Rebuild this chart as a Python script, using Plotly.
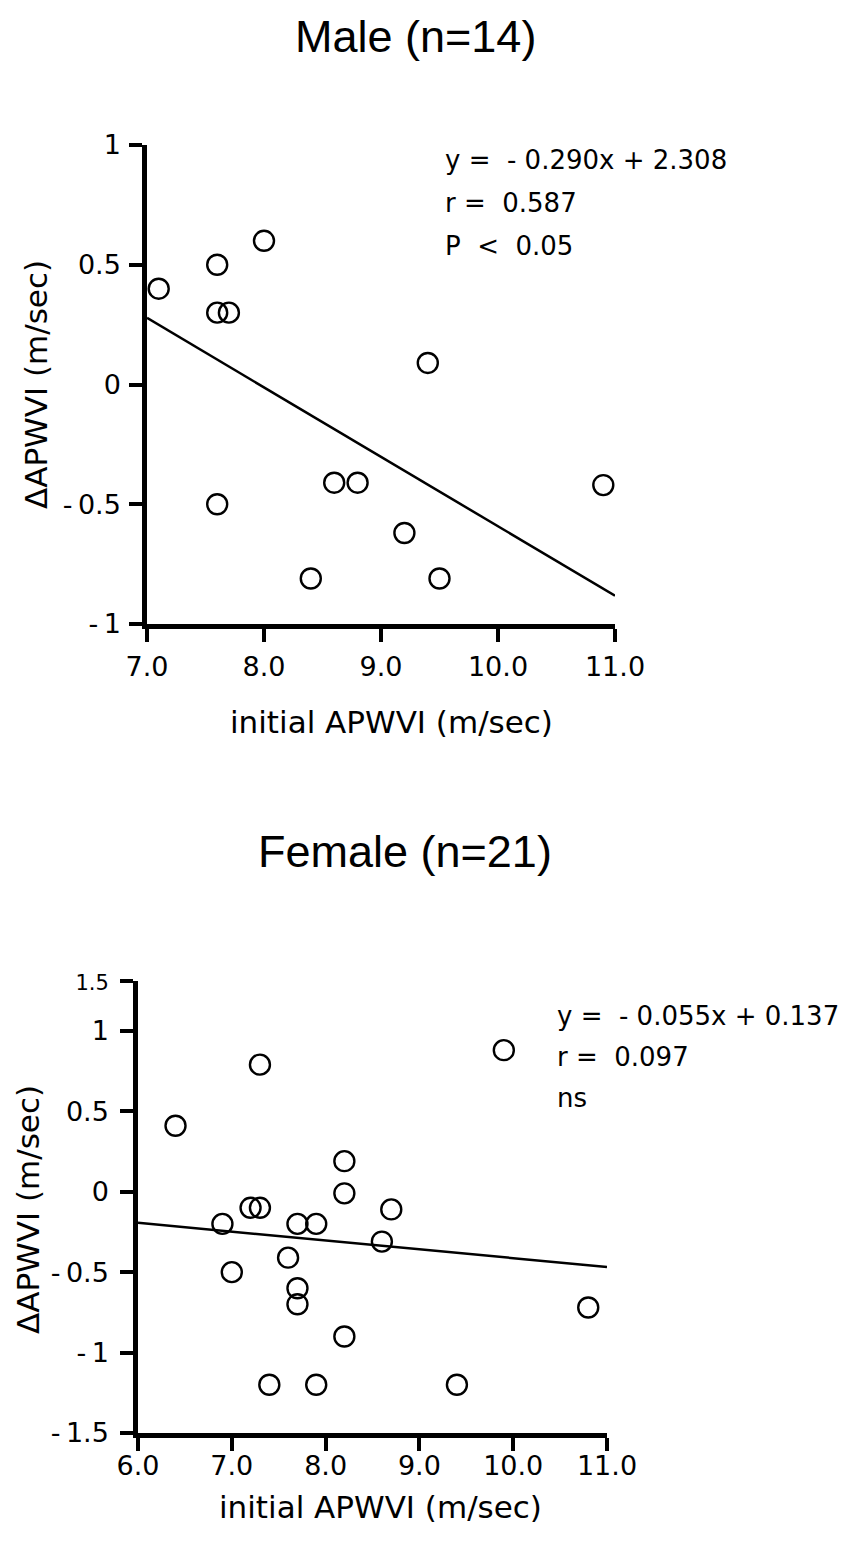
import plotly.graph_objects as go

# Male data
male_x = [7.1, 7.6, 7.6, 7.7, 8.0, 7.6, 9.4, 8.6, 8.8, 10.9, 9.2, 9.5, 8.4]
male_y = [0.40, 0.50, 0.30, 0.30, 0.60, -0.50, 0.09, -0.41, -0.41, -0.42, -0.62, -0.81, -0.81]
male_slope, male_icpt = -0.290, 2.308
male_line_x = [7.0, 11.0]

# Female data
fem_x = [6.4, 7.3, 8.2, 8.2, 7.2, 7.3, 6.9, 7.7, 7.9, 7.6, 7.0, 7.7, 7.7, 8.2, 7.4, 7.9,
         9.9, 8.7, 8.6, 10.8, 9.4]
fem_y = [0.41, 0.79, 0.19, -0.01, -0.10, -0.10, -0.20, -0.20, -0.20, -0.41, -0.50, -0.60, -0.70,
         -0.90, -1.20, -1.20, 0.88, -0.11, -0.31, -0.72, -1.20]
fem_slope, fem_icpt = -0.055, 0.137
fem_line_x = [6.0, 11.0]

male_xticks = [7.0, 8.0, 9.0, 10.0, 11.0]
male_xtext = ["7.0", "8.0", "9.0", "10.0", "11.0"]
male_yticks = [-1, -0.5, 0, 0.5, 1]
male_ytext = ["-\u20091", "-\u20090.5", "0", "0.5", "1"]

fem_xticks = [6.0, 7.0, 8.0, 9.0, 10.0, 11.0]
fem_xtext = ["6.0", "7.0", "8.0", "9.0", "10.0", "11.0"]
fem_yticks = [-1.5, -1, -0.5, 0, 0.5, 1, 1.31]
fem_ytext = ["-\u20091.5", "-\u20091", "-\u20090.5", "0", "0.5", "1",
             "<span style='font-size:21px'>1.5</span>"]

FONT = "DejaVu Sans, Verdana, sans-serif"
TFONT = "Liberation Sans Narrow, Liberation Sans, Arial, sans-serif"

fig = go.Figure()

marker = dict(symbol="circle-open", size=20, color="black", line=dict(width=2.4, color="black"))

fig.add_trace(go.Scatter(x=male_x, y=male_y, mode="markers", marker=marker,
                         xaxis="x", yaxis="y", showlegend=False))
fig.add_trace(go.Scatter(x=male_line_x, y=[male_slope * v + male_icpt for v in male_line_x],
                         mode="lines", line=dict(color="black", width=2.5),
                         xaxis="x", yaxis="y", showlegend=False))
fig.add_trace(go.Scatter(x=fem_x, y=fem_y, mode="markers", marker=marker,
                         xaxis="x2", yaxis="y2", showlegend=False))
fig.add_trace(go.Scatter(x=fem_line_x, y=[fem_slope * v + fem_icpt for v in fem_line_x],
                         mode="lines", line=dict(color="black", width=2.5),
                         xaxis="x2", yaxis="y2", showlegend=False))

H = 1549.0
W = 848.0

axcommon = dict(showgrid=False, zeroline=False, showline=True, linecolor="black", linewidth=4.5,
                ticks="outside", ticklen=13, tickwidth=4, tickcolor="black", automargin=False,
                tickfont=dict(family=FONT, size=27, color="black"))

fig.update_layout(
    template="none",
    width=848, height=1549,
    margin=dict(l=0, r=0, t=0, b=0, pad=0, autoexpand=False),
    paper_bgcolor="white", plot_bgcolor="white",
    xaxis=dict(domain=[147 / W, 615 / W], range=[7.0, 11.0], anchor="y",
               tickvals=male_xticks, ticktext=male_xtext, ticklabelstandoff=2, **axcommon),
    yaxis=dict(domain=[(H - 624) / H, (H - 145) / H], range=[-1, 1], anchor="x",
               tickvals=male_yticks, ticktext=male_ytext, ticklabelstandoff=3, **axcommon),
    xaxis2=dict(domain=[138 / W, 607 / W], range=[6.0, 11.0], anchor="y2",
                tickvals=fem_xticks, ticktext=fem_xtext, ticklabelstandoff=-8, **axcommon),
    yaxis2=dict(domain=[(H - 1433) / H, (H - 981) / H], range=[-1.5, 1.31], anchor="x2",
                tickvals=fem_yticks, ticktext=fem_ytext, ticklabelstandoff=6, **axcommon),
)


def px_x(p):
    return p / W


def px_y(p):
    return (H - p) / H


def note(text, x, y, size, family=FONT, xanchor="center", angle=0):
    return dict(text=text, x=px_x(x), y=px_y(y), xref="paper", yref="paper",
                xanchor=xanchor, yanchor="middle", showarrow=False, textangle=angle,
                font=dict(family=family, size=size, color="black"))


ann = []
ann.append(note("Male (n=14)", 415, 36, 45, family=TFONT))
ann.append(note("Female (n=21)", 405, 851, 45, family=TFONT))
ann.append(note("initial APWVI (m/sec)", 391, 722, 31))
ann.append(note("initial APWVI (m/sec)", 380, 1507, 31))
ann.append(note("ΔAPWVI (m/sec)", 36, 385, 31, angle=-90))
ann.append(note("ΔAPWVI (m/sec)", 28, 1210, 31, angle=-90))

male_stats = ["y =  - 0.290x + 2.308", "r =  0.587", "P  <  0.05"]
for i, t in enumerate(male_stats):
    ann.append(note(t, 443, 160 + 43 * i, 26, xanchor="left"))
fem_stats = ["y =  - 0.055x + 0.137", "r =  0.097", "ns"]
for i, t in enumerate(fem_stats):
    ann.append(note(t, 555, 1016 + 41 * i, 26, xanchor="left"))

fig.update_layout(annotations=ann)
fig.write_html("out.html")
